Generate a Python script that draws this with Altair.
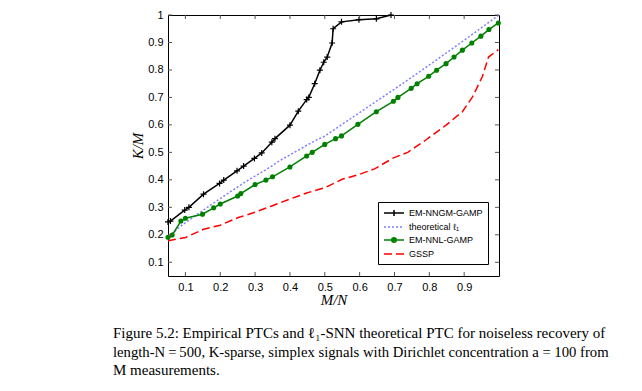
import altair as alt
import pandas as pd

# ---------------- data ----------------
nngm_x = [0.05, 0.057, 0.098, 0.11, 0.152, 0.198, 0.21, 0.248, 0.267, 0.298, 0.319, 0.348,
          0.357, 0.40, 0.424, 0.448, 0.454, 0.471, 0.486, 0.497, 0.507, 0.521, 0.524, 0.548,
          0.598, 0.648, 0.69]
nngm_y = [0.247, 0.25, 0.29, 0.30, 0.348, 0.387, 0.399, 0.433, 0.45, 0.478, 0.498, 0.537,
          0.55, 0.599, 0.65, 0.692, 0.70, 0.75, 0.799, 0.828, 0.847, 0.898, 0.95, 0.975,
          0.983, 0.986, 1.0]

theo_x = [0.055, 0.062, 0.09, 0.138, 0.186, 0.233, 0.28, 0.329, 0.376, 0.424, 0.471, 0.5,
          0.6, 0.7, 0.8, 0.9, 1.0]
theo_y = [0.19, 0.205, 0.235, 0.278, 0.32, 0.36, 0.399, 0.435, 0.474, 0.508, 0.542, 0.559,
          0.645, 0.73, 0.818, 0.908, 1.0]

nnl_x = [0.05, 0.062, 0.087, 0.10, 0.149, 0.181, 0.20, 0.25, 0.259, 0.30, 0.331, 0.35,
         0.40, 0.448, 0.464, 0.50, 0.531, 0.548, 0.595, 0.648, 0.697, 0.71, 0.748, 0.765,
         0.798, 0.821, 0.848, 0.871, 0.895, 0.922, 0.948, 0.971, 0.998]
nnl_y = [0.191, 0.199, 0.25, 0.26, 0.275, 0.298, 0.312, 0.341, 0.35, 0.383, 0.399, 0.411,
         0.447, 0.487, 0.50, 0.529, 0.55, 0.56, 0.602, 0.648, 0.686, 0.70, 0.733, 0.75,
         0.777, 0.799, 0.823, 0.847, 0.872, 0.898, 0.923, 0.947, 0.971]

gssp_x = [0.05, 0.1, 0.152, 0.2, 0.252, 0.295, 0.348, 0.4, 0.45, 0.5, 0.55, 0.6, 0.643,
          0.697, 0.738, 0.79, 0.849, 0.895, 0.924, 0.952, 0.97, 0.998]
gssp_y = [0.178, 0.19, 0.22, 0.235, 0.263, 0.28, 0.305, 0.33, 0.353, 0.371, 0.402, 0.42,
          0.44, 0.48, 0.50, 0.545, 0.6, 0.648, 0.702, 0.775, 0.847, 0.874]

series_names = ["EM-NNGM-GAMP", "theoretical \u2113\u2081", "EM-NNL-GAMP", "GSSP"]
series_colors = ["#000000", "#7f7fff", "#008000", "#ff0000"]

x_ticks = [0.1, 0.2, 0.3, 0.4, 0.5, 0.6, 0.7, 0.8, 0.9]
y_ticks = [0.1, 0.2, 0.3, 0.4, 0.5, 0.6, 0.7, 0.8, 0.9, 1.0]

caption_lines = [
    "Figure 5.2:  Empirical PTCs and \u2113\u2081-SNN theoretical PTC for noiseless recovery of",
    "length-N\u2009=\u2009500, K-sparse, simplex signals with Dirichlet concentration a = 100 from",
    "M measurements.",
]

# ---------------- layout ----------------
W, H = 331, 261

xscale = alt.Scale(domain=[0.05, 1.0], nice=False, zero=False)
yscale = alt.Scale(domain=[0.05, 1.0], nice=False, zero=False)

axis_common = dict(
    grid=False, domain=False, ticks=False, tickSize=0,
    labelFont="Liberation Sans", labelFontSize=11, labelColor="black",
    titleFont="Liberation Serif", titleFontStyle="italic", titleFontSize=15,
    titleFontWeight="normal", titleColor="black", format="~g",
)
x_enc = alt.X("x:Q", scale=xscale,
              axis=alt.Axis(values=x_ticks, title="M/N", labelPadding=5, titlePadding=0,
                            **axis_common))
y_enc = alt.Y("y:Q", scale=yscale,
              axis=alt.Axis(values=y_ticks, title="K/M", labelPadding=5, titlePadding=2,
                            **axis_common))


def frame(xs, ys):
    return pd.DataFrame({"x": xs, "y": ys})


gssp = alt.Chart(frame(gssp_x, gssp_y)).mark_line(
    color=series_colors[3], strokeWidth=1.5, strokeDash=[8, 4]).encode(x=x_enc, y=y_enc)
theo = alt.Chart(frame(theo_x, theo_y)).mark_line(
    color=series_colors[1], strokeWidth=1.5, strokeDash=[2, 2]).encode(x=x_enc, y=y_enc)
nnl_line = alt.Chart(frame(nnl_x, nnl_y)).mark_line(
    color=series_colors[2], strokeWidth=1.5).encode(x=x_enc, y=y_enc)
nnl_pts = alt.Chart(frame(nnl_x, nnl_y)).mark_point(
    shape="circle", filled=True, size=26, color=series_colors[2], opacity=1).encode(x=x_enc, y=y_enc)
nngm_line = alt.Chart(frame(nngm_x, nngm_y)).mark_line(
    color=series_colors[0], strokeWidth=1.5).encode(x=x_enc, y=y_enc)
nngm_pts = alt.Chart(frame(nngm_x, nngm_y)).mark_point(
    shape="M-1,0H1M0,-1V1", filled=False, size=36, strokeWidth=1.2,
    color=series_colors[0], opacity=1).encode(x=x_enc, y=y_enc)

# inward ticks on all four sides
tick_color = "#555555"
ytick_df = pd.DataFrame({"y": y_ticks})
xtick_df = pd.DataFrame({"x": x_ticks})
ytl = alt.Chart(ytick_df).mark_rule(color=tick_color, strokeWidth=1).encode(
    y=y_enc, x=alt.value(0), x2=alt.value(4))
ytr = alt.Chart(ytick_df).mark_rule(color=tick_color, strokeWidth=1).encode(
    y=y_enc, x=alt.value(W - 4), x2=alt.value(W))
xtb = alt.Chart(xtick_df).mark_rule(color=tick_color, strokeWidth=1).encode(
    x=x_enc, y=alt.value(H - 4), y2=alt.value(H))
xtt = alt.Chart(xtick_df).mark_rule(color=tick_color, strokeWidth=1).encode(
    x=x_enc, y=alt.value(0), y2=alt.value(4))

# legend (drawn by Vega-Lite from scale domain, no visible marks)
legend_paths = [
    "M-1,0H3M1,-0.6V0.6",
    "M-1,0H-0.6M-0.2,0H0.2M0.6,0H1M1.4,0H1.8M2.2,0H2.6",
    "M-1,0H3M1.45,0A0.45,0.45,0,1,1,0.55,0A0.45,0.45,0,1,1,1.45,0M1.15,0A0.15,0.15,0,1,1,0.85,0A0.15,0.15,0,1,1,1.15,0",
    "M-1,0H0.6M1.4,0H3",
]
leg = alt.Legend(orient="none", legendX=210, legendY=187, title=None, padding=5,
                 strokeColor="black", fillColor="white", cornerRadius=0,
                 labelFont="Liberation Sans", labelFontSize=9, labelColor="black",
                 symbolSize=100, symbolStrokeWidth=1.5, labelOffset=14, rowPadding=2)
legend_df = pd.DataFrame({"x": [0.5] * 4, "y": [0.5] * 4, "series": series_names})
legend_layer = alt.Chart(legend_df).transform_filter("false").mark_point(
    filled=False, opacity=1, strokeWidth=1.5).encode(
    x=x_enc, y=y_enc,
    color=alt.Color("series:N", scale=alt.Scale(domain=series_names, range=series_colors), legend=leg),
    shape=alt.Shape("series:N", scale=alt.Scale(domain=series_names, range=legend_paths), legend=leg),
)

# caption
cap_layers = []
cap_y = [323, 341.5, 360]
cap_size = [15, 14.7, 15]
for line, yy, fs in zip(caption_lines, cap_y, cap_size):
    cap_layers.append(
        alt.Chart(pd.DataFrame({"t": [line]})).mark_text(
            font="Liberation Serif", fontSize=fs, align="left", baseline="alphabetic",
            color="black").encode(text="t:N", x=alt.value(-55), y=alt.value(yy))
    )

chart = alt.layer(
    gssp, theo, nnl_line, nnl_pts, nngm_line, nngm_pts, ytl, ytr, xtb, xtt, legend_layer,
    *cap_layers
).properties(
    width=W, height=H,
    autosize=alt.AutoSizeParams(type="none"),
    padding={"left": 160, "top": 7, "right": 130, "bottom": 104},
    background="white",
).configure_view(
    stroke="black", strokeWidth=1
)

chart.save("out.html", embed_options={"renderer": "svg", "actions": False})
